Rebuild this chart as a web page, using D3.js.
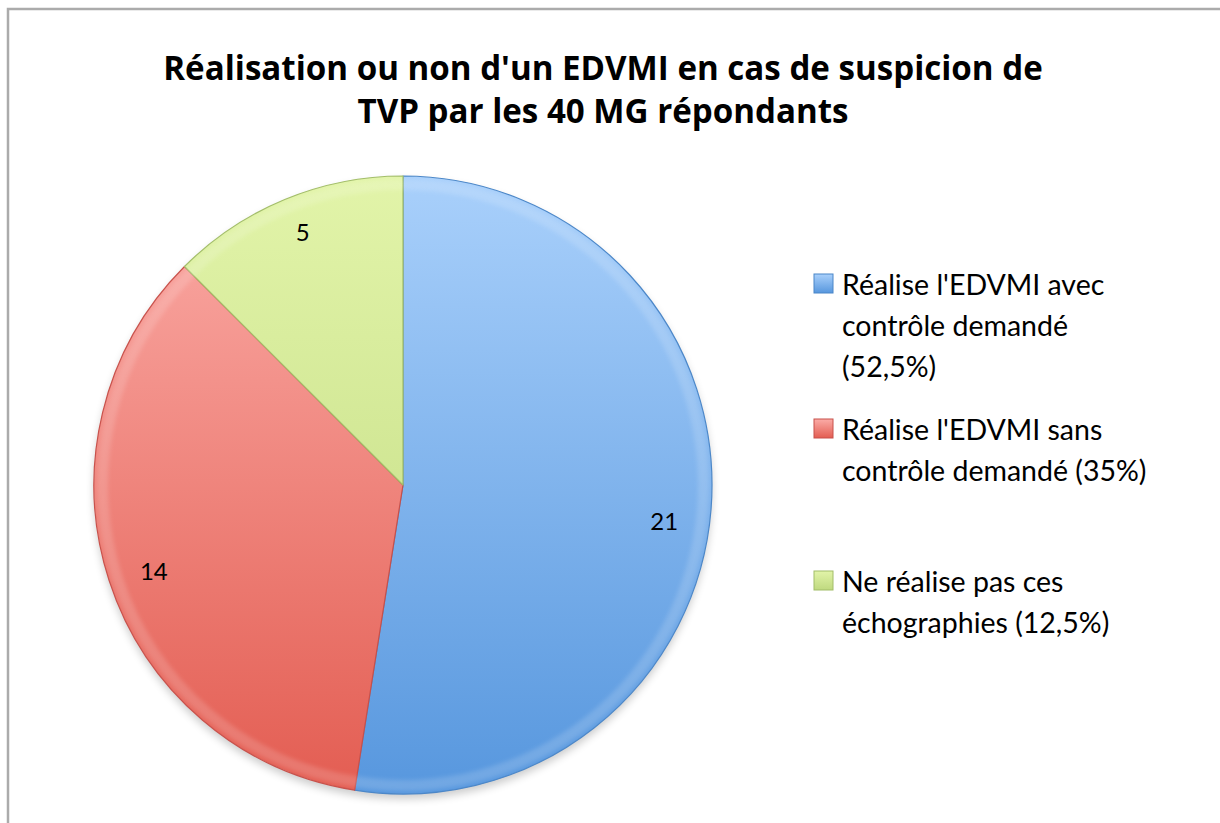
<!DOCTYPE html>
<html>
<head>
<meta charset="utf-8">
<script src="https://cdn.jsdelivr.net/npm/d3@7.9.0/dist/d3.min.js"></script>
<style>
  body { margin: 0; background: #fff; }
  svg { display: block; }
</style>
</head>
<body>
<svg width="1220" height="823"></svg>
<script>
const labels = [
  ["Réalise l'EDVMI avec", "contrôle demandé", "(52,5%)"],
  ["Réalise l'EDVMI sans", "contrôle demandé (35%)"],
  ["Ne réalise pas ces", "échographies (12,5%)"]
];
const values = [21, 14, 5];
const topColors = ["#a9d0fb", "#fbaca7", "#e2f4a9"];
const bottomColors = ["#5797de", "#e35d52", "#bfd97f"];
const edgeColors = ["#4a86c8", "#c8504a", "#a2bd68"];

const titleLines = ["Réalisation ou non d'un EDVMI en cas de suspicion de", "TVP par les 40 MG répondants"];

const svg = d3.select('svg');
const cx = 403, cy = 485, r = 309;

// frame
svg.append('path')
  .attr('d', 'M8,823 V9 H1220')
  .attr('fill', 'none')
  .attr('stroke', '#ababab')
  .attr('stroke-width', 2.5);

// title, sized so the first line spans the same width as the original
let title = svg.append('g').selectAll('text')
  .data(titleLines)
  .join('text')
  .attr('x', 603)
  .attr('y', (d, i) => 80 + i * 43)
  .attr('text-anchor', 'middle')
  .attr('font-family', '"Open Sans", Lato, sans-serif')
  .attr('font-weight', 'bold')
  .attr('font-size', 32)
  .attr('fill', '#000')
  .text(d => d);
let w0 = title.node().getComputedTextLength();
title.attr('font-size', 32 * 880 / w0);

const defs = svg.append('defs');
values.forEach((v, i) => {
  let g = defs.append('linearGradient')
    .attr('id', 'grad' + i)
    .attr('gradientUnits', 'userSpaceOnUse')
    .attr('x1', 0).attr('y1', -r)
    .attr('x2', 0).attr('y2', r);
  g.append('stop').attr('offset', '0%').attr('stop-color', topColors[i]);
  g.append('stop').attr('offset', '100%').attr('stop-color', bottomColors[i]);
});
let shadow = defs.append('filter').attr('id', 'shadow')
  .attr('x', '-10%').attr('y', '-10%').attr('width', '120%').attr('height', '125%');
shadow.append('feGaussianBlur').attr('stdDeviation', 4);
let soft = defs.append('filter').attr('id', 'soft');
soft.append('feGaussianBlur').attr('stdDeviation', 2);

let pie = d3.pie().sort(null).value(d => d);
let arcGenerator = d3.arc().innerRadius(0).outerRadius(r);
let labelArc = d3.arc().innerRadius(262).outerRadius(262);
let arcData = pie(values);

const g = svg.append('g').attr('transform', `translate(${cx},${cy})`);

// soft shadow under the pie
g.append('circle')
  .attr('cx', 0).attr('cy', 5).attr('r', r)
  .attr('fill', '#000').attr('opacity', 0.2)
  .attr('filter', 'url(#shadow)');

g.selectAll('path.slice')
  .data(arcData)
  .join('path')
  .attr('class', 'slice')
  .attr('d', arcGenerator)
  .attr('fill', (d, i) => `url(#grad${i})`)
  .attr('stroke', (d, i) => edgeColors[i])
  .attr('stroke-width', 1.2)
  .attr('stroke-linejoin', 'round');

// slight bevel highlight along the rim
g.selectAll('path.rim')
  .data(arcData)
  .join('path')
  .attr('class', 'rim')
  .attr('d', d3.arc().innerRadius(r - 14).outerRadius(r - 3))
  .attr('fill', '#fff')
  .attr('opacity', 0.15)
  .attr('filter', 'url(#soft)');

const labelOffsets = [[0, 18], [0, 8], [0, -8]];
g.selectAll('text')
  .data(arcData)
  .join('text')
  .attr('x', (d, i) => labelArc.centroid(d)[0] + labelOffsets[i][0])
  .attr('y', (d, i) => labelArc.centroid(d)[1] + labelOffsets[i][1])
  .attr('text-anchor', 'middle')
  .attr('dominant-baseline', 'middle')
  .attr('font-family', 'Lato, "Open Sans", sans-serif')
  .attr('font-size', 24)
  .attr('fill', '#000')
  .text(d => d.value);

// legend
const legendTop = [295, 440, 592];
const legend = svg.append('g');
labels.forEach((lines, i) => {
  let lg = defs.append('linearGradient').attr('id', 'lg' + i)
    .attr('x1', 0).attr('y1', 0).attr('x2', 0).attr('y2', 1);
  lg.append('stop').attr('offset', '0%').attr('stop-color', topColors[i]);
  lg.append('stop').attr('offset', '100%').attr('stop-color', bottomColors[i]);
  legend.append('rect')
    .attr('x', 814).attr('y', legendTop[i] - 21)
    .attr('width', 19).attr('height', 19)
    .attr('fill', `url(#lg${i})`)
    .attr('stroke', edgeColors[i]).attr('stroke-width', 1);

  legend.append('g').selectAll('text')
    .data(lines)
    .join('text')
    .attr('x', 842)
    .attr('y', (d, j) => legendTop[i] + j * 41)
    .attr('font-family', 'Lato, "Open Sans", sans-serif')
    .attr('font-size', 28.5)
    .attr('fill', '#000')
    .text(d => d);
});
</script>
</body>
</html>
